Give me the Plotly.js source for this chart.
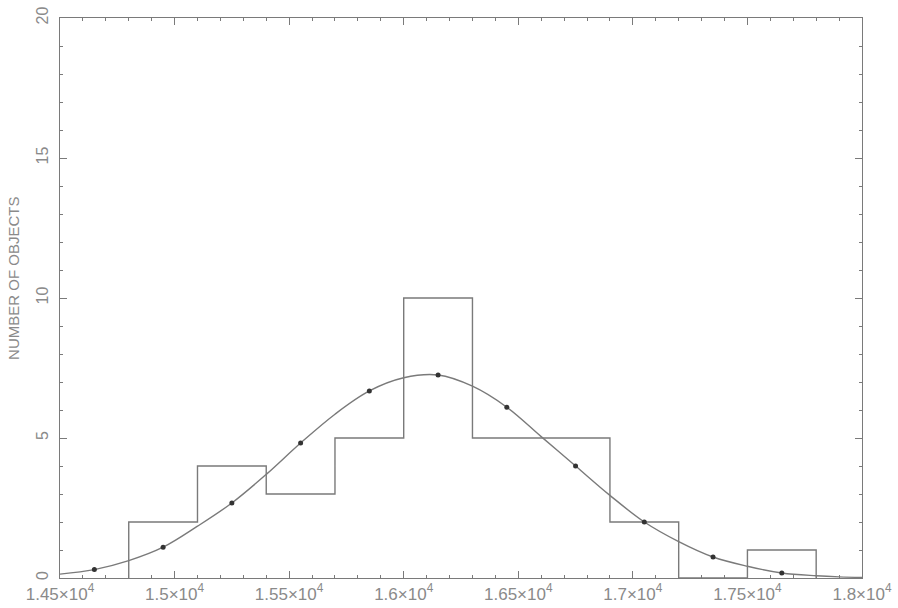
<!DOCTYPE html>
<html>
<head>
<meta charset="utf-8">
<script src="https://cdn.plot.ly/plotly-3.0.1.min.js"></script>
<style>html,body{margin:0;padding:0;background:#fff;}#chart{width:898px;height:608px;}</style>
</head>
<body>
<div id="chart"></div>
<script>
// Histogram bins (edges) and counts
const binEdges = [14800, 15100, 15400, 15700, 16000, 16300, 16600, 16900, 17200, 17500, 17800];
const counts   = [2, 4, 3, 5, 10, 5, 5, 2, 0, 1];

// Fitted curve, values
const curveX = [14500, 14650, 14800, 14950, 15100, 15250, 15400, 15550, 15700, 15850, 16000, 16150, 16300, 16450, 16600, 16750, 16900, 17050, 17200, 17350, 17500, 17650, 17800, 17900, 18000];
const curveY = [0.14, 0.30, 0.62, 1.10, 1.85, 2.68, 3.70, 4.82, 5.85, 6.68, 7.15, 7.25, 6.85, 6.10, 5.05, 4.00, 2.95, 2.00, 1.30, 0.75, 0.42, 0.18, 0.08, 0.04, 0.02];

// Dots on the curve (bin centres)
const dotX = [14650, 14950, 15250, 15550, 15850, 16150, 16450, 16750, 17050, 17350, 17650];
const dotY = [0.30, 1.10, 2.68, 4.82, 6.68, 7.25, 6.10, 4.00, 2.00, 0.75, 0.18];

// Tick labels
const xTickVals = [14500, 15000, 15500, 16000, 16500, 17000, 17500, 18000];
const xTickText = ['1.45×10<sup>4</sup>', '1.5×10<sup>4</sup>', '1.55×10<sup>4</sup>', '1.6×10<sup>4</sup>', '1.65×10<sup>4</sup>', '1.7×10<sup>4</sup>', '1.75×10<sup>4</sup>', '1.8×10<sup>4</sup>'];
const yTickVals = [0, 5, 10, 15, 20];
const yTickText = ['0', '5', '10', '15', '20'];
const yTitle = 'NUMBER OF OBJECTS';

const histX = [binEdges[0]].concat(binEdges);
const histY = [0].concat(counts).concat([0]);

const lineCol = '#7a7a7a';
const textCol = '#8a8a8a';

const traces = [
  {x: histX, y: histY, type: 'scatter', mode: 'lines', line: {shape: 'hv', color: lineCol, width: 1.4}, hoverinfo: 'skip'},
  {x: curveX, y: curveY, type: 'scatter', mode: 'lines', line: {shape: 'spline', color: lineCol, width: 1.4}, hoverinfo: 'skip'},
  {x: dotX, y: dotY, type: 'scatter', mode: 'markers', marker: {color: '#333', size: 5}, hoverinfo: 'skip'}
];

const layout = {
  width: 898, height: 608,
  margin: {l: 60, r: 36, t: 18, b: 30},
  paper_bgcolor: '#fff', plot_bgcolor: '#fff',
  showlegend: false,
  font: {family: 'Liberation Sans, Arial, sans-serif', color: textCol, size: 13},
  xaxis: {
    range: [14500, 18000], showgrid: false, zeroline: false,
    showline: true, linecolor: lineCol, linewidth: 1.2, mirror: 'allticks',
    ticks: 'inside', ticklen: 7, tickcolor: lineCol, tickwidth: 1,
    tickvals: xTickVals, ticktext: xTickText,
    tickfont: {size: 17, color: textCol},
    ticklabelstandoff: 0,
    minor: {dtick: 100, tick0: 14500, ticks: 'inside', ticklen: 3, tickcolor: lineCol, showgrid: false}
  },
  yaxis: {
    range: [0, 20], showgrid: false, zeroline: false,
    showline: true, linecolor: lineCol, linewidth: 1.2, mirror: 'allticks',
    ticks: 'inside', ticklen: 7, tickcolor: lineCol, tickwidth: 1,
    tickvals: yTickVals, ticktext: yTickText, tickangle: -90,
    tickfont: {size: 16, color: textCol},
    ticklabelstandoff: 4,
    minor: {dtick: 1, tick0: 0, ticks: 'inside', ticklen: 3, tickcolor: lineCol, showgrid: false}
  },
  annotations: [{
    text: yTitle, textangle: -90, showarrow: false,
    xref: 'paper', yref: 'paper', x: -0.058, y: 0.535,
    xanchor: 'center', yanchor: 'middle',
    font: {size: 15, color: textCol}
  }]
};

Plotly.newPlot('chart', traces, layout, {displayModeBar: false, staticPlot: true});
</script>
</body>
</html>
